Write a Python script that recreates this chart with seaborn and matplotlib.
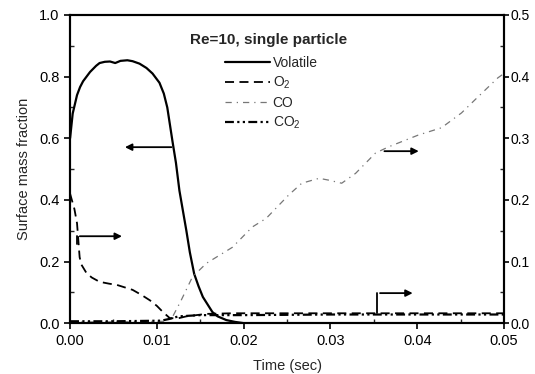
import numpy as np
import pandas as pd
import matplotlib
matplotlib.use("Agg")
import matplotlib.pyplot as plt
from matplotlib.ticker import MultipleLocator, FormatStrFormatter
import seaborn as sns

# ---- data ----
t_vol = [0.0, 0.0003, 0.0008, 0.00115, 0.0015, 0.0023, 0.003, 0.0034, 0.004, 0.0046,
         0.0052, 0.0058, 0.0066, 0.0072, 0.008, 0.0088, 0.0095, 0.0103, 0.0108, 0.0112,
         0.0118, 0.0122, 0.0126, 0.0134, 0.0138, 0.0143, 0.0148, 0.0153, 0.0164,
         0.017, 0.018, 0.019, 0.020, 0.050]
volatile = [0.60, 0.68, 0.74, 0.766, 0.785, 0.815, 0.835, 0.844, 0.848, 0.849,
            0.844, 0.851, 0.853, 0.850, 0.842, 0.828, 0.810, 0.78, 0.745, 0.70,
            0.59, 0.52, 0.43, 0.30, 0.23, 0.16, 0.12, 0.085, 0.036,
            0.022, 0.01, 0.004, 0.0, 0.0]

t_o2 = [0.0, 0.0002, 0.0005, 0.0008, 0.0011, 0.0013, 0.0019, 0.0025, 0.0034, 0.0045,
        0.0054, 0.0072, 0.0082, 0.0092, 0.0100, 0.0107, 0.0115, 0.0125, 0.0134,
        0.0157, 0.0187, 0.025, 0.03, 0.035, 0.04, 0.045, 0.05]
o2 = [0.21, 0.20, 0.185, 0.162, 0.107, 0.095, 0.081, 0.074, 0.067, 0.064,
      0.062, 0.054, 0.046, 0.037, 0.028, 0.018, 0.008, 0.008, 0.011,
      0.015, 0.016, 0.016, 0.016, 0.016, 0.016, 0.016, 0.016]

t_co = [0.0, 0.005, 0.0110, 0.0118, 0.0128, 0.0141, 0.0157, 0.0187, 0.021, 0.0226,
        0.0252, 0.0267, 0.0287, 0.0298, 0.0313, 0.0329, 0.0352, 0.0367, 0.0401,
        0.0428, 0.0451, 0.047, 0.0493, 0.050]
co = [0.002, 0.002, 0.003, 0.01, 0.037, 0.075, 0.097, 0.123, 0.156, 0.170,
      0.208, 0.227, 0.235, 0.232, 0.227, 0.243, 0.276, 0.286, 0.305,
      0.317, 0.341, 0.367, 0.398, 0.405]

t_co2 = [0.0, 0.005, 0.0105, 0.0115, 0.0125, 0.015, 0.02, 0.03, 0.04, 0.05]
co2 = [0.003, 0.003, 0.004, 0.007, 0.011, 0.013, 0.013, 0.014, 0.014, 0.014]

title = "Re=10, single particle"
labels = ["Volatile", "O$_2$", "CO", "CO$_2$"]

sns.set_theme(style="ticks")
plt.rcParams["font.family"] = ["Liberation Sans", "DejaVu Sans"]
plt.rcParams["mathtext.fontset"] = "custom"
plt.rcParams["mathtext.rm"] = "Liberation Sans"

fig = plt.figure(figsize=(5.35, 3.74), dpi=100)
ax = fig.add_axes([0.131, 0.136, 0.811, 0.824])
ax2 = ax.twinx()

sns.lineplot(x=t_vol, y=volatile, ax=ax, color="black", lw=1.6, estimator=None, sort=False)
sns.lineplot(x=t_o2, y=o2, ax=ax2, color="black", lw=1.3, estimator=None, sort=False)
sns.lineplot(x=t_co, y=co, ax=ax2, color="#777777", lw=0.9, estimator=None, sort=False)
sns.lineplot(x=t_co2, y=co2, ax=ax2, color="black", lw=1.6, estimator=None, sort=False)

lv = ax.lines[0]
lo, lc, lc2 = ax2.lines[0], ax2.lines[1], ax2.lines[2]
lo.set_dashes([5, 3])
lc.set_dashes([5, 4, 1, 4])
lc2.set_dashes([4, 1.5, 1, 1.5, 1, 1.5])

ax.set_xlim(0, 0.05)
ax.set_ylim(0, 1.0)
ax2.set_ylim(0, 0.5)
ax.xaxis.set_major_locator(MultipleLocator(0.01))
ax.xaxis.set_minor_locator(MultipleLocator(0.005))
ax.yaxis.set_major_locator(MultipleLocator(0.2))
ax.yaxis.set_minor_locator(MultipleLocator(0.1))
ax2.yaxis.set_major_locator(MultipleLocator(0.1))
ax2.yaxis.set_minor_locator(MultipleLocator(0.05))
ax.xaxis.set_major_formatter(FormatStrFormatter("%.2f"))
ax.yaxis.set_major_formatter(FormatStrFormatter("%.1f"))
ax2.yaxis.set_major_formatter(FormatStrFormatter("%.1f"))

for a in (ax, ax2):
    for s in a.spines.values():
        s.set_linewidth(1.5)
        s.set_color("black")
ax.tick_params(which="major", direction="out", length=4, width=1.2, labelsize=10.5, colors="black")
ax.tick_params(which="minor", direction="in", length=3, width=1.0)
ax2.tick_params(which="major", direction="out", length=3.5, width=1.2, labelsize=10,
                pad=1.5, colors="black")
ax2.tick_params(which="minor", direction="in", length=3, width=1.0)

ax.set_xlabel("Time (sec)", fontsize=10.5, labelpad=8)
ax.set_ylabel("Surface mass fraction", fontsize=10.5, labelpad=6)
ax2.set_ylabel("")

ax.text(0.0229, 0.92, title, ha="center", va="center", fontsize=11, fontweight="bold")

leg = ax.legend([lv, lo, lc, lc2], labels, loc="upper left",
                bbox_to_anchor=(0.345, 0.885), frameon=False, fontsize=10,
                handlelength=3.2, handletextpad=0.2, labelspacing=0.35,
                borderaxespad=0)

arrow = dict(arrowstyle="-|>", color="black", lw=1.3, mutation_scale=10)
# Volatile -> left axis
ax.annotate("", xy=(0.0060, 0.571), xytext=(0.0120, 0.571), arrowprops=arrow)
# O2 -> right axis
ax2.plot([0.0008, 0.0008], [0.128, 0.141], color="black", lw=1.3)
ax2.annotate("", xy=(0.0063, 0.141), xytext=(0.0008, 0.141), arrowprops=arrow)
# CO -> right axis
ax2.annotate("", xy=(0.0405, 0.279), xytext=(0.0359, 0.279), arrowprops=arrow)
# CO2 -> right axis
ax2.plot([0.0354, 0.0354], [0.016, 0.0487], color="black", lw=1.3)
ax2.annotate("", xy=(0.0398, 0.0487), xytext=(0.0354, 0.0487), arrowprops=arrow)

fig.savefig("out.png", dpi=100)
